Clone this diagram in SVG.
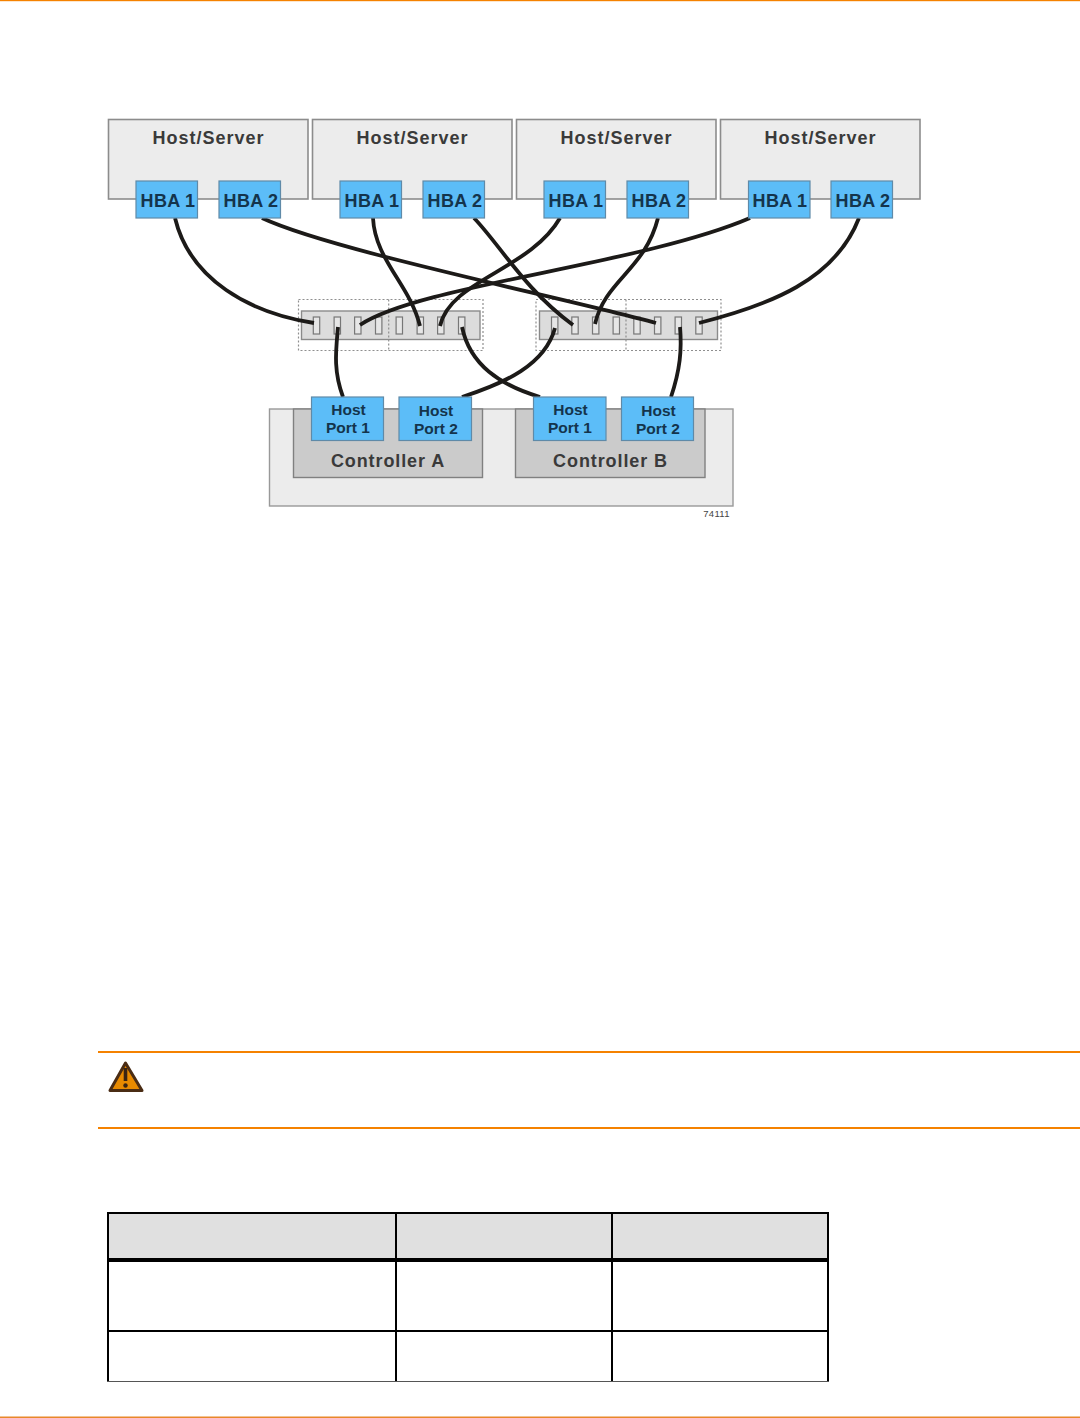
<svg xmlns="http://www.w3.org/2000/svg" width="1080" height="1418" viewBox="0 0 1080 1418">
<style>
text{font-family:"Liberation Sans",Arial,sans-serif;font-weight:700;text-anchor:middle}
.host{fill:#ececec;stroke:#8c8c8c;stroke-width:1.6}
.host-t{fill:#3a3a3a;font-size:18px;letter-spacing:1px}
.hba{fill:#5cbdf8;stroke:#5f8aa8;stroke-width:1.2}
.hba-t{fill:#14344c;font-size:18px;letter-spacing:.3px}
.port-t{fill:#14344c;font-size:15.5px}
.sw{fill:#dcdcdc;stroke:#8a8a8a;stroke-width:1.4}
.dot{fill:none;stroke:#8f8f8f;stroke-width:1.2;stroke-dasharray:2 2}
.slot{fill:#e6e6e6;stroke:#777;stroke-width:1.2}
.encl{fill:#ececec;stroke:#999;stroke-width:1.4}
.ctrl{fill:#cbcbcb;stroke:#808080;stroke-width:1.4}
.ctrl-t{fill:#3a3a3a;font-size:18px;letter-spacing:.9px}
.cable{fill:none;stroke:#1c1a18;stroke-width:3.8}
.orange{fill:#f58200}
.tl{fill:#000}
</style>
<defs>
<rect id="s" class="slot" x="-3.2" y="317" width="6.4" height="17"/>
</defs>
<rect class="orange" x="0" y="0" width="1080" height="1.2"/>
<g id="host1"><rect class="host" x="108.5" y="119.5" width="199.5" height="79.5"/><text class="host-t" x="208.5" y="144">Host/Server</text></g>
<g id="host2"><rect class="host" x="312.5" y="119.5" width="199.5" height="79.5"/><text class="host-t" x="412.5" y="144">Host/Server</text></g>
<g id="host3"><rect class="host" x="516.5" y="119.5" width="199.5" height="79.5"/><text class="host-t" x="616.5" y="144">Host/Server</text></g>
<g id="host4"><rect class="host" x="720.5" y="119.5" width="199.5" height="79.5"/><text class="host-t" x="820.5" y="144">Host/Server</text></g>
<g id="storage-enclosure"><rect class="encl" x="269.5" y="409" width="463.5" height="97"/></g>
<g id="controller-a"><rect class="ctrl" x="293.5" y="409" width="189" height="68.5"/><text class="ctrl-t" x="388" y="467">Controller A</text></g>
<g id="controller-b"><rect class="ctrl" x="515.5" y="409" width="189.5" height="68.5"/><text class="ctrl-t" x="610.5" y="467">Controller B</text></g>
<g id="switch-left">
<rect class="sw" x="301.5" y="311" width="178.5" height="28.5"/>
<rect class="dot" x="298.5" y="299.5" width="184.5" height="51"/>
<path class="dot" d="M388.7 299.5V350.5"/>
<use href="#s" x="316.5"/><use href="#s" x="337.3"/><use href="#s" x="357.8"/><use href="#s" x="378.7"/><use href="#s" x="399.3"/><use href="#s" x="420.3"/><use href="#s" x="440.8"/><use href="#s" x="461.7"/>
</g>
<g id="switch-right">
<rect class="sw" x="539.5" y="311" width="178" height="28.5"/>
<rect class="dot" x="536" y="299.5" width="185" height="51"/>
<path class="dot" d="M626 299.5V350.5"/>
<use href="#s" x="554.7"/><use href="#s" x="575"/><use href="#s" x="595.7"/><use href="#s" x="616.3"/><use href="#s" x="637"/><use href="#s" x="657.7"/><use href="#s" x="678.3"/><use href="#s" x="699"/>
</g>
<g id="connectors">
<path class="cable" d="M175 218C190 280 250 313 314 323"/>
<path class="cable" d="M262 218C330 250 560 297 656 323"/>
<path class="cable" d="M373 218C375 260 410 285 420 326"/>
<path class="cable" d="M474 218C500 245 525 290 573 325"/>
<path class="cable" d="M560 218C530 270 450 280 440 326"/>
<path class="cable" d="M658 218C645 270 605 280 595 324"/>
<path class="cable" d="M750 218C640 265 420 285 360 325"/>
<path class="cable" d="M859 218C835 280 770 305 699 323"/>
<path class="cable" d="M343 397C333 370 336 350 338 327"/>
<path class="cable" d="M462 397C505 383 545 365 555 328"/>
<path class="cable" d="M540 397C500 385 470 365 462 327"/>
<path class="cable" d="M671 397C680 370 682 350 680 327"/>
</g>
<g id="h1-hba1"><rect class="hba" x="136" y="181" width="61.500" height="37"/><text class="hba-t" x="168" y="207">HBA 1</text></g>
<g id="h1-hba2"><rect class="hba" x="219" y="181" width="61.500" height="37"/><text class="hba-t" x="251" y="207">HBA 2</text></g>
<g id="h2-hba1"><rect class="hba" x="340" y="181" width="61.500" height="37"/><text class="hba-t" x="372" y="207">HBA 1</text></g>
<g id="h2-hba2"><rect class="hba" x="423" y="181" width="61.500" height="37"/><text class="hba-t" x="455" y="207">HBA 2</text></g>
<g id="h3-hba1"><rect class="hba" x="544" y="181" width="61.500" height="37"/><text class="hba-t" x="576" y="207">HBA 1</text></g>
<g id="h3-hba2"><rect class="hba" x="627" y="181" width="61.500" height="37"/><text class="hba-t" x="659" y="207">HBA 2</text></g>
<g id="h4-hba1"><rect class="hba" x="748.500" y="181" width="61.500" height="37"/><text class="hba-t" x="780" y="207">HBA 1</text></g>
<g id="h4-hba2"><rect class="hba" x="831" y="181" width="61.500" height="37"/><text class="hba-t" x="863" y="207">HBA 2</text></g>
<g id="a-port1"><rect class="hba" x="311.500" y="397" width="72" height="43.500"/><text class="port-t" x="348.500" y="414.500">Host</text><text class="port-t" x="348" y="432.500">Port 1</text></g>
<g id="a-port2"><rect class="hba" x="399" y="397" width="72.500" height="43.500"/><text class="port-t" x="436" y="415.500">Host</text><text class="port-t" x="436" y="433.500">Port 2</text></g>
<g id="b-port1"><rect class="hba" x="533.500" y="397" width="72.500" height="43.500"/><text class="port-t" x="570.500" y="414.500">Host</text><text class="port-t" x="570" y="432.500">Port 1</text></g>
<g id="b-port2"><rect class="hba" x="621.500" y="397" width="72" height="43.500"/><text class="port-t" x="658.500" y="415.500">Host</text><text class="port-t" x="658" y="433.500">Port 2</text></g>
<text x="716.500" y="517" style="font-size:9.500px;font-weight:400;fill:#444;letter-spacing:.3px">74111</text>
<rect class="orange" x="98" y="1051" width="982" height="2"/>
<rect class="orange" x="98" y="1127" width="982" height="2"/>
<g id="warning-icon">
<path d="M125.500 1063L110 1090.500H142L125.500 1063Z" fill="#e88a00" stroke="#4a2c14" stroke-width="3" stroke-linejoin="round"/>
<path d="M125.500 1068V1081" stroke="#3a2412" stroke-width="3.600"/>
<circle cx="125.500" cy="1085.500" r="2.200" fill="#3a2412"/>
</g>
<g id="table">
<rect x="108" y="1213" width="720" height="46" fill="#e0e0e0"/>
<rect class="tl" x="107" y="1212" width="722" height="2"/>
<rect class="tl" x="107" y="1258" width="722" height="4"/>
<rect class="tl" x="107" y="1330" width="722" height="2"/>
<rect x="107" y="1381" width="722" height="1" fill="#555"/>
<rect class="tl" x="107" y="1212" width="2" height="169"/>
<rect class="tl" x="395" y="1212" width="2" height="169"/>
<rect class="tl" x="611" y="1212" width="2" height="169"/>
<rect class="tl" x="827" y="1212" width="2" height="169"/>
</g>
<rect x="0" y="1416.500" width="1080" height="1.500" fill="#e8882a"/>
</svg>
